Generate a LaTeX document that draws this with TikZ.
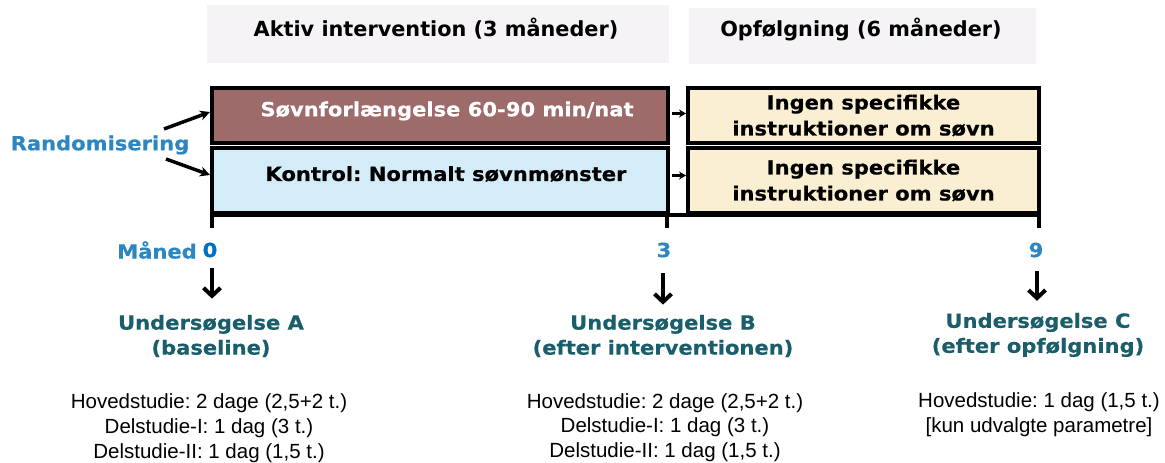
\documentclass[tikz,border=0pt]{standalone}
\usepackage{fontspec}
\setmainfont{Liberation Sans}
\newfontfamily\vfont{DejaVu Sans}[FakeStretch=1.08,BoldFeatures={FakeBold=0.4}]
\newfontfamily\hfont{DejaVu Sans}
\usetikzlibrary{arrows.meta,calc}
\definecolor{brownfill}{HTML}{9E6B6B}
\definecolor{bluefill}{HTML}{D3ECF8}
\definecolor{creamfill}{HTML}{FAEFD2}
\definecolor{hdrgray}{HTML}{F5F3F6}
\definecolor{randblue}{HTML}{2E86C1}
\definecolor{zeroblue}{HTML}{0070C0}
\definecolor{tealtxt}{HTML}{1B5E6B}
\frenchspacing
\begin{document}
\begin{tikzpicture}[x=1pt,y=-1pt,
  hdrbox/.style={fill=hdrgray,draw=none,inner sep=0pt},
  hdrtext/.style={font=\hfont\bfseries\fontsize{20.8}{25}\selectfont,inner sep=0pt},
  box/.style={draw=black,line width=4pt,inner sep=0pt,line join=miter},
  bt/.style={font=\vfont\bfseries\fontsize{19.5}{26}\selectfont,align=center,inner sep=0pt},
  bluetxt/.style={font=\vfont\bfseries\fontsize{19.5}{25}\selectfont,text=randblue,inner sep=0pt},
  headtxt/.style={font=\vfont\bfseries\fontsize{19.5}{25}\selectfont,text=tealtxt,align=center,inner sep=0pt},
  bodytxt/.style={font=\fontsize{20.5}{24.7}\selectfont,align=center,inner sep=0pt},
  tick/.style={line width=4pt},
  randarr/.style={line width=3.5pt,-{Stealth[length=10pt,width=10pt]}},
  smallarr/.style={line width=2.5pt,-{Stealth[length=7pt,width=8pt]}},
  downarr/.style={line width=4pt,-{Straight Barb[length=8pt,width=17pt]}}
]
\useasboundingbox (0,0) rectangle (1165,463);

% header boxes
\node[hdrbox,minimum width=462pt,minimum height=58pt] (h1) at (438,34) {};
\node[hdrbox,minimum width=347pt,minimum height=56pt] (h2) at (862.5,36) {};
\node[hdrtext] (h1t) at (436,29) {Aktiv intervention (3 måneder)};
\node[hdrtext] (h2t) at (861,30) {Opfølgning (6 måneder)};

% main boxes
\node[box,fill=brownfill,minimum width=456pt,minimum height=55pt] (b1) at (440,115.5) {};
\node[box,fill=bluefill,minimum width=456pt,minimum height=65pt] (b2) at (440,180.5) {};
\node[box,fill=creamfill,minimum width=351pt,minimum height=55pt,bt] (b3) at (863.5,115.5) {Ingen specifikke\\instruktioner om søvn};
\node[box,fill=creamfill,minimum width=351pt,minimum height=65pt,bt] (b4) at (863.5,180.5) {Ingen specifikke\\instruktioner om søvn};
\node[bt,text=white] (b1t) at (447,111) {Søvnforlængelse 60-90 min/nat};
\node[bt] (b2t) at (446,174) {Kontrol: Normalt søvnmønster};

% timeline
\coordinate (t0) at (212,213);
\coordinate (t3) at (667,213);
\coordinate (t9) at (1039,213);
\coordinate (t0b) at (212,228);
\coordinate (t3b) at (667,228);
\coordinate (t9b) at (1039,228);
\draw[tick] (b2.south west) -- (b4.south east);
\draw[tick] (t0) -- (t0b);
\draw[tick] (t3) -- (t3b);
\draw[tick] (t9) -- (t9b);

% arrows between boxes
\draw[smallarr] (b1.east) ++(2,-2) coordinate (s1) -- (b3.west |- s1);
\draw[smallarr] (b2.east) ++(2,-5) coordinate (s2) -- (b4.west |- s2);

% randomisering
\node[bluetxt] (rand) at (100,145) {Randomisering};
\coordinate (r1s) at (164,129);
\coordinate (r2s) at (166,159);
\draw[randarr] (r1s) -- (b1.west |- 0,112);
\draw[randarr] (r2s) -- (b2.west |- 0,175);

% months
\node[bluetxt] (maaned) at (157,250) {Måned};
\node[bluetxt,text=zeroblue] (m0) at (210,250) {0};
\node[bluetxt] (m3) at (664,250) {3};
\node[bluetxt] (m9) at (1036,250) {9};

% examination headings
\node[headtxt] (uA) at (211,336) {Undersøgelse A\\(baseline)};
\node[headtxt] (uB) at (663,336) {Undersøgelse B\\(efter interventionen)};
\node[headtxt] (uC) at (1038,335) {Undersøgelse C\\(efter opfølgning)};

% down arrows
\coordinate (a0s) at (212,268);
\coordinate (a3s) at (663,273);
\coordinate (a9s) at (1037,271);
\draw[downarr] (a0s) -- ($(a0s |- uA.north)+(0,-16)$);
\draw[downarr] (a3s) -- ($(a3s |- uB.north)+(0,-10)$);
\draw[downarr] (a9s) -- ($(a9s |- uC.north)+(0,-12)$);

% body texts
\node[bodytxt] (dA) at (209,428) {Hovedstudie: 2 dage (2,5+2 t.)\\Delstudie-I: 1 dag (3 t.)\\Delstudie-II: 1 dag (1,5 t.)};
\node[bodytxt] (dB) at (665,427.5) {Hovedstudie: 2 dage (2,5+2 t.)\\Delstudie-I: 1 dag (3 t.)\\Delstudie-II: 1 dag (1,5 t.)};
\node[bodytxt] (dC) at (1039,415) {Hovedstudie: 1 dag (1,5 t.)\\{[kun udvalgte parametre]}};
\end{tikzpicture}
\end{document}
